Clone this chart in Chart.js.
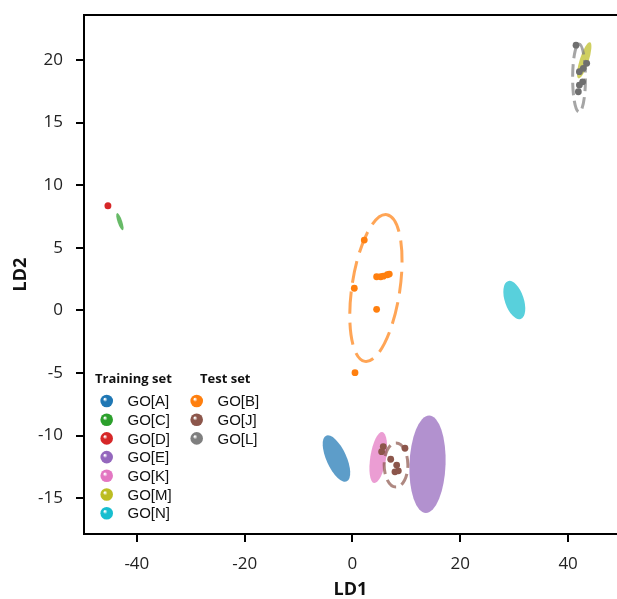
<!DOCTYPE html>
<html>
<head>
<meta charset="utf-8">
<script src="https://cdn.jsdelivr.net/npm/chart.js@4"></script>
<style>
  html, body { margin: 0; padding: 0; background: #fff; overflow: hidden; }
  #wrap { width: 617px; height: 599px; overflow: hidden; }
</style>
</head>
<body>
<div id="wrap"><canvas id="myChart" width="621" height="599"></canvas></div>
<script>
// --- axis ranges and ticks ---
const xRange = [-49.8, 49.07];
const yRange = [-17.86, 23.6];
const xTicks = [-40, -20, 0, 20, 40];
const yTicks = [-15, -10, -5, 0, 5, 10, 15, 20];

// --- groups ---
const trainLabels = ['GO[A]', 'GO[C]', 'GO[D]', 'GO[E]', 'GO[K]', 'GO[M]', 'GO[N]'];
const trainColors = ['#1f77b4', '#2ca02c', '#d62728', '#9467bd', '#e377c2', '#bcbd22', '#17becf'];
const testLabels = ['GO[B]', 'GO[J]', 'GO[L]'];
const testColors = ['#ff7f0e', '#8c564b', '#7f7f7f'];

// ellipses: [centerX, centerY, axis1 dx, axis1 dy, axis2 dx, axis2 dy] in data units
const ellipseGOA = [-2.97, -11.83, 1.93, -1.82, -1.67, -0.34];
const ellipseGOC = [-43.14, 7.09, 0.55, -0.68, -0.40, -0.06];
const ellipseGOD = [-45.36, 8.37, 0.64, 0, 0, 0.28];
const ellipseGOE = [13.92, -12.29, 0.3, 3.89, 3.35, 0];
const ellipseGOK = [4.78, -11.75, 0.76, 2.04, 1.45, -0.10];
const ellipseGOM = [42.99, 19.98, 1.075, 1.44, 0.79, -0.11];
const ellipseGON = [30.02, 0.83, 1.19, -1.51, -1.65, -0.25];
const ellipseGOB = [4.35, 1.79, 2.04, 5.86, 4.4, -0.30];
const ellipseGOJ = [8.08, -12.35, 0, 1.76, 2.2, 0];
const ellipseGOL = [42.03, 18.56, 0, 2.72, 1.19, 0];

// test set points
const goBx = [2.19, 0.34, 4.48, 5.23, 5.72, 6.46, 6.83, 4.48, 0.47];
const goBy = [5.62, 1.77, 2.69, 2.69, 2.74, 2.85, 2.90, 0.09, -4.97];
const goJx = [5.71, 5.41, 9.74, 7.09, 8.20, 7.88, 8.51];
const goJy = [-10.88, -11.28, -11.01, -11.89, -12.35, -12.89, -12.81];
const goLx = [41.47, 43.45, 42.82, 42.09, 42.70, 42.09, 41.90];
const goLy = [21.19, 19.74, 19.34, 19.07, 18.26, 18.0, 17.47];

const trainEllipses = [ellipseGOA, ellipseGOC, ellipseGOD, ellipseGOE, ellipseGOK, ellipseGOM, ellipseGON];
const trainAlpha = [0.72, 0.72, 1, 0.72, 0.72, 0.72, 0.72];
const testEllipses = [ellipseGOB, ellipseGOJ, ellipseGOL];

const toPoints = (xs, ys) => xs.map((x, i) => ({ x: x, y: ys[i] }));

function hexA(hex, a) {
    const n = parseInt(hex.slice(1), 16);
    return `rgba(${(n >> 16) & 255}, ${(n >> 8) & 255}, ${n & 255}, ${a})`;
}

// path an ellipse given in data units, using the chart scales
function ellipsePath(ctx, chart, e) {
    const xs = chart.scales.x, ys = chart.scales.y;
    const cx = xs.getPixelForValue(e[0]), cy = ys.getPixelForValue(e[1]);
    const ux = xs.getPixelForValue(e[0] + e[2]) - cx, uy = ys.getPixelForValue(e[1] + e[3]) - cy;
    const vx = xs.getPixelForValue(e[0] + e[4]) - cx, vy = ys.getPixelForValue(e[1] + e[5]) - cy;
    ctx.save();
    ctx.transform(ux, uy, vx, vy, cx, cy);
    ctx.beginPath();
    ctx.arc(0, 0, 1, 0, Math.PI * 2);
    ctx.restore();
}

const ellipsePlugin = {
    id: 'ellipses',
    beforeDatasetsDraw(chart) {
        const ctx = chart.ctx, a = chart.chartArea;
        ctx.save();
        ctx.beginPath();
        ctx.rect(a.left, a.top, a.right - a.left, a.bottom - a.top);
        ctx.clip();
        trainEllipses.forEach((e, i) => {
            ellipsePath(ctx, chart, e);
            ctx.fillStyle = hexA(trainColors[i], trainAlpha[i]);
            ctx.fill();
        });
        testEllipses.forEach((e, i) => {
            ellipsePath(ctx, chart, e);
            ctx.strokeStyle = hexA(testColors[i], 0.7);
            ctx.lineWidth = 3;
            ctx.setLineDash(i == 0 ? [22, 9] : [12, 6]);
            ctx.stroke();
        });
        ctx.restore();
    },
    afterDraw(chart) {
        const ctx = chart.ctx, a = chart.chartArea;
        // top frame line
        ctx.save();
        ctx.strokeStyle = '#000';
        ctx.lineWidth = 2;
        ctx.beginPath();
        ctx.moveTo(a.left - 1, a.top);
        ctx.lineTo(a.right, a.top);
        ctx.stroke();

        // legend
        const drawBall = (x, y, color) => {
            const g = ctx.createRadialGradient(x - 2, y - 2, 0.5, x, y, 6.5);
            g.addColorStop(0, '#ffffff');
            g.addColorStop(0.3, color);
            g.addColorStop(1, color);
            ctx.fillStyle = g;
            ctx.beginPath();
            ctx.arc(x, y, 6.3, 0, Math.PI * 2);
            ctx.fill();
        };
        ctx.textBaseline = 'middle';
        ctx.fillStyle = '#111';
        ctx.font = 'bold 13px "Open Sans"';
        ctx.fillText('Training set', 95, 379);
        ctx.fillText('Test set', 200, 379);
        ctx.font = '15px "Liberation Sans"';
        trainLabels.forEach((lab, i) => {
            const y = 401 + i * 18.7;
            drawBall(106.7, y, trainColors[i]);
            ctx.fillStyle = '#111';
            ctx.fillText(lab, 127.5, y + 1);
        });
        testLabels.forEach((lab, i) => {
            const y = 401 + i * 18.7;
            drawBall(196.7, y, testColors[i]);
            ctx.fillStyle = '#111';
            ctx.fillText(lab, 217.5, y + 1);
        });
        ctx.restore();
    }
};

const ctx = document.getElementById('myChart');

new Chart(ctx, {
    type: 'scatter',
    data: {
        datasets: [
            { label: testLabels[0], data: toPoints(goBx, goBy), backgroundColor: testColors[0], pointRadius: 3.4, borderWidth: 0 },
            { label: testLabels[1], data: toPoints(goJx, goJy), backgroundColor: testColors[1], pointRadius: 3.4, borderWidth: 0 },
            { label: testLabels[2], data: toPoints(goLx, goLy), backgroundColor: '#6f6f6f', pointRadius: 3.4, borderWidth: 0 }
        ]
    },
    plugins: [ellipsePlugin],
    options: {
        responsive: false,
        animation: false,
        layout: { padding: { top: 15, right: 0, left: 0, bottom: 0 } },
        plugins: { legend: { display: false }, tooltip: { enabled: false } },
        scales: {
            x: {
                type: 'linear',
                min: xRange[0],
                max: xRange[1],
                afterBuildTicks: (s) => { s.ticks = xTicks.map(v => ({ value: v })); },
                afterFit: (s) => { s.height = 65; s.paddingLeft = 0; s.paddingRight = 0; },
                border: { display: true, color: '#000', width: 2 },
                grid: { drawOnChartArea: false, drawTicks: true, tickLength: 8, tickColor: '#000', lineWidth: 2 },
                ticks: { color: '#222', font: { family: 'Open Sans', size: 17 }, padding: 12 },
                title: { display: true, text: 'LD1', color: '#111', font: { family: 'Open Sans', size: 18, weight: 'bold', lineHeight: 1 }, padding: { top: 0, bottom: 0 } }
            },
            y: {
                type: 'linear',
                min: yRange[0],
                max: yRange[1],
                afterBuildTicks: (s) => { s.ticks = yTicks.map(v => ({ value: v })); },
                afterFit: (s) => { s.width = 84; s.paddingTop = 0; s.paddingBottom = 0; },
                border: { display: true, color: '#000', width: 2 },
                grid: { drawOnChartArea: false, drawTicks: true, tickLength: 8, tickColor: '#000', lineWidth: 2 },
                ticks: { color: '#222', font: { family: 'Open Sans', size: 17 }, padding: 13 },
                title: { display: true, text: 'LD2', color: '#111', font: { family: 'Open Sans', size: 18, weight: 'bold' }, padding: { top: 10, bottom: 0 } }
            }
        }
    }
});
</script>
</body>
</html>
